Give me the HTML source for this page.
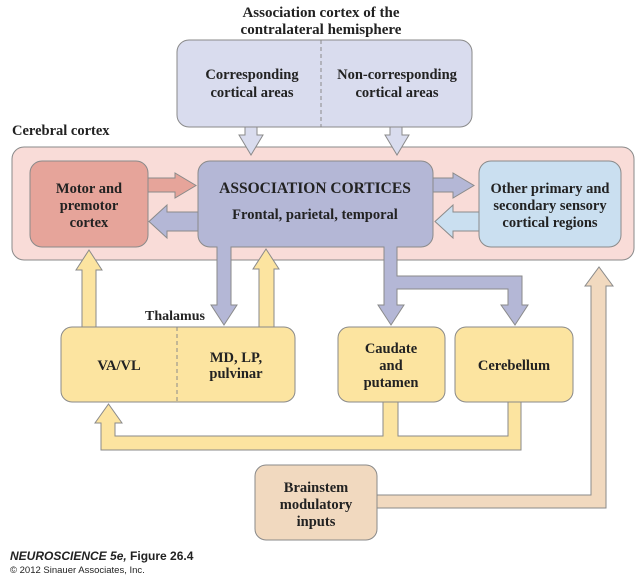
<!DOCTYPE html>
<html><head><meta charset="utf-8"><style>
html,body{margin:0;padding:0;background:#fff;}
svg{display:block;}
text{font-family:"Liberation Serif",serif;font-weight:bold;fill:#222;}
</style></head><body>
<svg width="640" height="585" viewBox="0 0 640 585" xmlns="http://www.w3.org/2000/svg">
<g stroke="#8a8a8a" stroke-width="1">
<text x="321" y="17" font-size="15" text-anchor="middle" stroke="none">Association cortex of the</text>
<text x="321" y="34" font-size="15" text-anchor="middle" stroke="none">contralateral hemisphere</text>
<rect x="177" y="40" width="295" height="87" rx="12" fill="#d9dcee"/>
<line x1="321" y1="40" x2="321" y2="127" stroke-dasharray="4,3"/>
<text x="252" y="79" font-size="14.5" text-anchor="middle" stroke="none">Corresponding</text>
<text x="252" y="97" font-size="14.5" text-anchor="middle" stroke="none">cortical areas</text>
<text x="397" y="79" font-size="14.5" text-anchor="middle" stroke="none">Non-corresponding</text>
<text x="397" y="97" font-size="14.5" text-anchor="middle" stroke="none">cortical areas</text>

<text x="12" y="135" font-size="14.5" stroke="none">Cerebral cortex</text>
<rect x="12" y="147" width="622" height="113" rx="12" fill="#f9dcd8"/>

<polygon points="245,127 257,127 257,135 263,135 251,155 239,135 245,135" fill="#d9dcee"/>
<polygon points="390,127 402,127 402,135 409,135 397,155 385,135 390,135" fill="#d9dcee"/>

<polygon points="82,327 82,270 76,270 89,250 102,270 96,270 96,327" fill="#fce4a0"/>
<polygon points="259,327 259,269 253,269 266,249 279,269 274,269 274,327" fill="#fce4a0"/>

<rect x="30" y="161" width="118" height="86" rx="12" fill="#e6a49a"/>
<rect x="479" y="161" width="142" height="86" rx="12" fill="#cadff0"/>

<polygon points="148,178 175,178 175,173 196,185.5 175,198 175,192 148,192" fill="#e6a49a"/>
<polygon points="433,178 453,178 453,173 474,185.5 453,198 453,192 433,192" fill="#b4b7d6"/>
<polygon points="479,212 453,212 453,205 435,221.5 453,238 453,231 479,231" fill="#cadff0"/>

<polygon points="217,240 231,240 231,305 237,305 224,325 211,305 217,305" fill="#b4b7d6"/>
<polygon points="384,240 397,240 397,276 522,276 522,305 528,305 515,325 501,305 508,305 508,289 397,289 397,305 404,305 391,325 378,305 384,305" fill="#b4b7d6"/>
<rect x="198" y="161" width="235" height="86" rx="12" fill="#b4b7d6"/>
<rect x="217.5" y="244" width="13" height="6" fill="#b4b7d6" stroke="none"/>
<rect x="384.5" y="244" width="12" height="6" fill="#b4b7d6" stroke="none"/>
<polygon points="198,212 167,212 167,205 149,221.5 167,238 167,231 198,231" fill="#b4b7d6"/>

<rect x="61" y="327" width="234" height="75" rx="11" fill="#fce4a0"/>
<line x1="177" y1="327" x2="177" y2="402" stroke-dasharray="4,3"/>
<rect x="338" y="327" width="107" height="75" rx="11" fill="#fce4a0"/>
<rect x="455" y="327" width="118" height="75" rx="11" fill="#fce4a0"/>

<polygon points="383,402 398,402 398,436 508,436 508,402 521,402 521,450 101,450 101,423 95,423 108.5,404 122,423 115,423 115,436 383,436" fill="#fce4a0"/>

<polygon points="377,495 591,495 591,286 585,286 599,267 613,286 606,286 606,508 377,508" fill="#f1d9bf"/>
<rect x="255" y="465" width="122" height="75" rx="11" fill="#f1d9bf"/>
</g>

<text x="89" y="193" font-size="14.5" text-anchor="middle">Motor and</text>
<text x="89" y="210" font-size="14.5" text-anchor="middle">premotor</text>
<text x="89" y="227" font-size="14.5" text-anchor="middle">cortex</text>
<text x="315" y="193" font-size="15.5" text-anchor="middle">ASSOCIATION CORTICES</text>
<text x="315" y="219" font-size="14.5" text-anchor="middle">Frontal, parietal, temporal</text>
<text x="550" y="193" font-size="14.5" text-anchor="middle">Other primary and</text>
<text x="550" y="210" font-size="14.5" text-anchor="middle">secondary sensory</text>
<text x="550" y="227" font-size="14.5" text-anchor="middle">cortical regions</text>
<text x="175" y="320" font-size="14" text-anchor="middle">Thalamus</text>
<text x="119" y="370" font-size="14.5" text-anchor="middle">VA/VL</text>
<text x="236" y="362" font-size="14.5" text-anchor="middle">MD, LP,</text>
<text x="236" y="378" font-size="14.5" text-anchor="middle">pulvinar</text>
<text x="391" y="353" font-size="14.5" text-anchor="middle">Caudate</text>
<text x="391" y="370" font-size="14.5" text-anchor="middle">and</text>
<text x="391" y="387" font-size="14.5" text-anchor="middle">putamen</text>
<text x="514" y="370" font-size="14.5" text-anchor="middle">Cerebellum</text>
<text x="316" y="492" font-size="14.5" text-anchor="middle">Brainstem</text>
<text x="316" y="509" font-size="14.5" text-anchor="middle">modulatory</text>
<text x="316" y="526" font-size="14.5" text-anchor="middle">inputs</text>
<text x="10" y="560" font-size="12" style="font-family:'Liberation Sans',sans-serif"><tspan font-style="italic">NEUROSCIENCE 5e,</tspan> Figure 26.4</text>
<text x="10" y="573" font-size="9.5" style="font-family:'Liberation Sans',sans-serif;font-weight:normal">© 2012 Sinauer Associates, Inc.</text>
</svg>
</body></html>
